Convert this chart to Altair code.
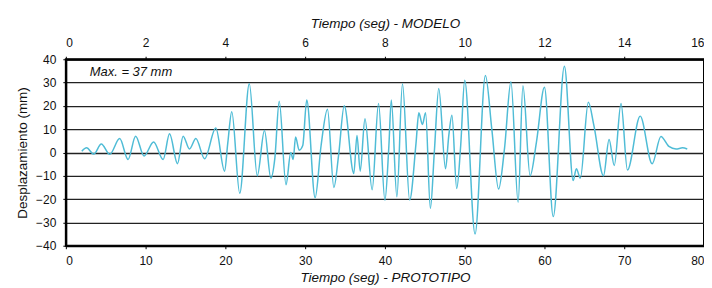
import altair as alt
import pandas as pd

# Prototype time (s) and displacement (mm), read from the scanned record
t_proto = [2.0, 2.6, 3.5, 4.45, 5.5, 6.75, 7.8, 8.75, 9.8, 11.0, 12.2, 13.0, 14.0, 14.7,
           15.5, 16.3, 17.4, 18.8, 19.9, 20.3, 20.8, 21.8, 23.0, 24.0, 24.9, 25.7, 26.2,
           26.75, 27.6, 28.2, 28.5, 28.8, 29.25, 29.7, 30.2, 31.25, 32.0, 32.8, 33.6, 34.2,
           34.9, 36.1, 36.5, 36.9, 37.5, 38.4, 39.2, 40.0, 40.5, 40.8, 41.5, 42.2, 43.1,
           43.9, 44.25, 44.7, 45.1, 45.7, 46.2, 46.75, 47.6, 48.0, 48.4, 49.0, 49.5, 50.0,
           51.3, 52.6, 53.4, 54.25, 55.0, 55.8, 56.7, 57.3, 58.2, 59.0, 60.0, 61.1, 62.5,
           63.6, 64.0, 64.5, 65.5, 66.2, 67.4, 68.1, 68.75, 69.6, 70.4, 72.0, 73.5, 74.6,
           75.6, 76.5, 77.3, 77.9]
desplaz = [0.5, 2.0, -0.7, 3.6, -0.8, 6.0, -3.0, 7.0, -1.5, 4.5, -3.0, 8.0, -4.8, 7.0,
           1.5, 6.0, -2.7, 10.5, -8.0, 4.0, 17.5, -17.5, 29.5, -10.0, 9.4, -11.0, -2.5,
           22.0, -13.8, 0.0, -3.0, 6.6, 1.0, 3.0, 22.5, -19.4, 3.0, 18.6, -15.0, -1.0,
           20.0, -9.0, 7.3, -8.0, 14.5, -16.0, 21.0, -20.5, 3.0, 22.5, -19.0, 29.5, -20.4,
           4.0, 17.0, 12.0, 17.0, -24.0, 0.5, 27.5, -7.0, 7.0, 16.0, -15.5, 3.0, 31.0,
           -35.0, 33.0, 10.0, -15.7, 2.0, 30.4, -21.4, 28.6, -10.0, 4.6, 28.0, -27.5, 37.0,
           -12.0, -7.0, -11.0, 21.5, 11.5, -10.0, 5.6, -5.6, 21.0, -7.5, 15.6, -4.8, 6.9,
           2.6, 1.5, 2.0, 1.5]

model_ticks = [0, 2, 4, 6, 8, 10, 12, 14, 16]
proto_ticks = [0, 10, 20, 30, 40, 50, 60, 70, 80]
y_ticks = [-40, -30, -20, -10, 0, 10, 20, 30, 40]

note_text = ["Max. = 37 mm"]
note_t = [3.0]
note_v = [34.5]

df = pd.DataFrame({"t": t_proto, "v": desplaz})
df_top = pd.DataFrame({"tm": model_ticks, "v": [0] * len(model_ticks)})
df_note = pd.DataFrame({"t": note_t, "v": note_v, "label": note_text})

FONT = "Liberation Sans"
yscale = alt.Scale(domain=[-40, 40], nice=False)
yaxis = alt.Axis(values=y_ticks, title="Desplazamiento (mm)", grid=True,
                 gridColor="#222222", gridWidth=1.3, tickSize=3,
                 labelPadding=7, titlePadding=6, labelFontSize=12,
                 titleFontSize=13.5, titleFontWeight="normal",
                 domainColor="black", domainWidth=2, tickColor="black",
                 labelColor="#111111", titleColor="#111111")

line = alt.Chart(df).mark_line(color="#4fbcd6", strokeWidth=1.5, interpolate="monotone").encode(
    x=alt.X("t:Q", scale=alt.Scale(domain=[0, 80], nice=False),
            axis=alt.Axis(values=proto_ticks, title="Tiempo (seg) -  PROTOTIPO", orient="bottom",
                          grid=False, tickSize=3, labelPadding=7, titlePadding=4,
                          labelFontSize=12, titleFontSize=13.5, titleFontStyle="italic",
                          titleFontWeight="normal", domainColor="black", domainWidth=2,
                          tickColor="black", labelColor="#111111", titleColor="#111111")),
    y=alt.Y("v:Q", scale=yscale, axis=yaxis),
)

note = alt.Chart(df_note).mark_text(align="left", baseline="middle", fontSize=13,
                                    fontStyle="italic", font=FONT, color="#111111").encode(
    x=alt.X("t:Q", scale=alt.Scale(domain=[0, 80], nice=False), axis=None),
    y=alt.Y("v:Q", scale=yscale, axis=yaxis),
    text="label:N",
)

top = alt.Chart(df_top).mark_point(opacity=0).encode(
    x=alt.X("tm:Q", scale=alt.Scale(domain=[0, 16], nice=False),
            axis=alt.Axis(values=model_ticks, title="Tiempo (seg) -  MODELO", orient="top",
                          grid=False, tickSize=3, labelPadding=7, titlePadding=6,
                          labelFontSize=12, titleFontSize=13.5, titleFontStyle="italic",
                          titleFontWeight="normal", domainColor="black", domainWidth=2,
                          tickColor="black", labelColor="#111111", titleColor="#111111")),
    y=alt.Y("v:Q", scale=yscale, axis=yaxis),
)

chart = alt.layer(line, note, top).resolve_scale(x="independent").properties(
    width=640, height=187,
    padding={"left": 58, "top": 51, "right": 0, "bottom": 40},
    autosize=alt.AutoSizeParams(type="none"),
).configure(font=FONT).configure_view(stroke="black", strokeWidth=2)

chart.save("out.html", embed_options={"renderer": "svg", "actions": False})
